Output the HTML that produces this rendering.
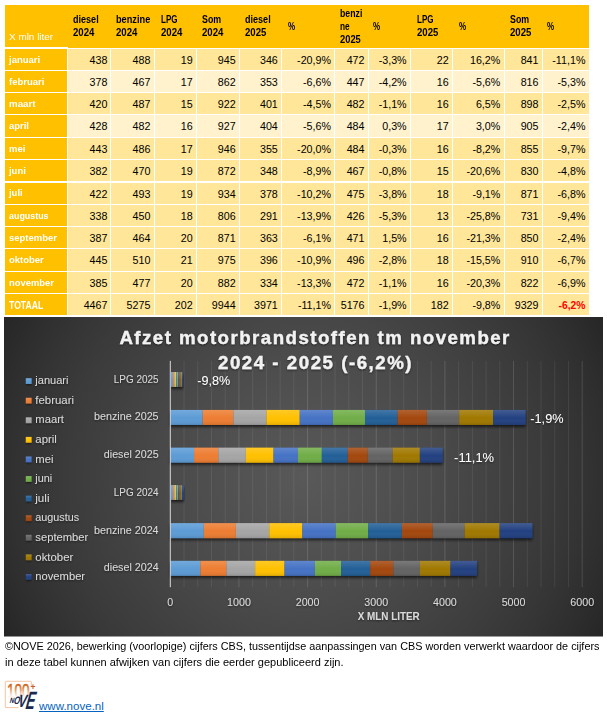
<!DOCTYPE html>
<html lang="nl"><head><meta charset="utf-8"><title>Afzet motorbrandstoffen tm november 2024 - 2025</title>
<style>
html,body{margin:0;padding:0;background:#fff;}
body{width:607px;height:718px;position:relative;overflow:hidden;font-family:"Liberation Sans", sans-serif;}
#tbl{position:absolute;left:0;top:0;width:607px;height:316px;}
#tbl div,#tbl span{position:absolute;box-sizing:border-box;white-space:nowrap;}
#hdr{background:#FFC000;}
#tbl .t{font-weight:bold;color:#000;font-size:10.6px;line-height:1;transform-origin:0 50%;}
#tbl .x{color:#fff;font-size:9.7px;line-height:1;transform-origin:0 50%;}
.l{background:#FFC000;color:#fff;font-weight:bold;font-size:9.7px;line-height:22.4px;padding-left:3.7px;overflow:hidden;}
.c{color:#000;font-size:10.7px;line-height:23.6px;text-align:right;padding-right:3.3px;overflow:hidden;}
.d{background:#FFE699;}.e{background:#FFF2CC;}
#tbl .red{color:#FF0000;font-weight:bold;font-size:10.3px;}
#chart{position:absolute;left:4px;top:317px;}
#note{position:absolute;left:5.2px;top:639.3px;font-size:10.8px;line-height:15.8px;color:#000;white-space:nowrap;}
#note span{display:block;transform-origin:0 50%;width:max-content;}
#logo{position:absolute;left:0;top:676px;}
#link{position:absolute;left:39px;top:699.1px;font-size:11.55px;line-height:14px;color:#0563C1;text-decoration:underline;}
</style></head><body>
<div id="tbl">
<div id="hdr" style="left:5px;top:5px;width:583.7px;height:43px"></div>
<div style="left:5px;top:47px;width:63px;height:1px;background:#fff"></div>
<span class="x" style="left:8.90px;top:31.99px;transform:scaleX(1.025)">X mln liter</span>
<span class="t" style="left:73.20px;top:13.78px;transform:scaleX(0.855)">diesel</span>
<span class="t" style="left:73.20px;top:26.73px;transform:scaleX(0.908)">2024</span>
<span class="t" style="left:116.30px;top:13.78px;transform:scaleX(0.869)">benzine</span>
<span class="t" style="left:116.30px;top:26.73px;transform:scaleX(0.908)">2024</span>
<span class="t" style="left:160.50px;top:13.78px;transform:scaleX(0.757)">LPG</span>
<span class="t" style="left:160.50px;top:26.73px;transform:scaleX(0.908)">2024</span>
<span class="t" style="left:202.30px;top:13.78px;transform:scaleX(0.832)">Som</span>
<span class="t" style="left:202.30px;top:26.73px;transform:scaleX(0.908)">2024</span>
<span class="t" style="left:244.50px;top:13.78px;transform:scaleX(0.855)">diesel</span>
<span class="t" style="left:244.50px;top:26.73px;transform:scaleX(0.908)">2025</span>
<span class="t" style="left:288.00px;top:20.53px;transform:scaleX(0.764)">%</span>
<span class="t" style="left:339.50px;top:8.33px;transform:scaleX(0.827)">benzi</span>
<span class="t" style="left:339.50px;top:21.03px;transform:scaleX(0.784)">ne</span>
<span class="t" style="left:339.50px;top:34.13px;transform:scaleX(0.882)">2025</span>
<span class="t" style="left:373.40px;top:20.53px;transform:scaleX(0.764)">%</span>
<span class="t" style="left:416.50px;top:13.78px;transform:scaleX(0.757)">LPG</span>
<span class="t" style="left:416.50px;top:26.73px;transform:scaleX(0.908)">2025</span>
<span class="t" style="left:458.60px;top:20.53px;transform:scaleX(0.764)">%</span>
<span class="t" style="left:510.40px;top:13.78px;transform:scaleX(0.832)">Som</span>
<span class="t" style="left:510.40px;top:26.73px;transform:scaleX(0.908)">2025</span>
<span class="t" style="left:547.30px;top:20.53px;transform:scaleX(0.764)">%</span>
<div class="l" style="left:5.00px;top:49.00px;width:62.00px;height:20.72px"><span style="position:static;display:inline-block;font-size:9.7px;transform:scaleX(0.978);transform-origin:0 50%">januari</span></div>
<div class="c d" style="left:68.00px;top:49.00px;width:42.10px;height:20.72px;padding-right:2.7px">438</div>
<div class="c d" style="left:111.10px;top:49.00px;width:42.60px;height:20.72px">488</div>
<div class="c d" style="left:154.70px;top:49.00px;width:41.30px;height:20.72px">19</div>
<div class="c d" style="left:197.00px;top:49.00px;width:41.90px;height:20.72px">945</div>
<div class="c d" style="left:239.90px;top:49.00px;width:41.20px;height:20.72px">346</div>
<div class="c d" style="left:282.10px;top:49.00px;width:52.20px;height:20.72px">-20,9%</div>
<div class="c d" style="left:335.30px;top:49.00px;width:32.50px;height:20.72px">472</div>
<div class="c d" style="left:368.80px;top:49.00px;width:41.10px;height:20.72px">-3,3%</div>
<div class="c d" style="left:410.90px;top:49.00px;width:41.10px;height:20.72px">22</div>
<div class="c d" style="left:453.00px;top:49.00px;width:50.60px;height:20.72px">16,2%</div>
<div class="c d" style="left:504.60px;top:49.00px;width:37.20px;height:20.72px">841</div>
<div class="c d" style="left:542.80px;top:49.00px;width:45.90px;height:20.72px">-11,1%</div>
<div class="l" style="left:5.00px;top:70.72px;width:62.00px;height:21.32px"><span style="position:static;display:inline-block;font-size:9.7px;transform:scaleX(0.983);transform-origin:0 50%">februari</span></div>
<div class="c e" style="left:68.00px;top:70.72px;width:42.10px;height:21.32px;padding-right:2.7px">378</div>
<div class="c e" style="left:111.10px;top:70.72px;width:42.60px;height:21.32px">467</div>
<div class="c e" style="left:154.70px;top:70.72px;width:41.30px;height:21.32px">17</div>
<div class="c e" style="left:197.00px;top:70.72px;width:41.90px;height:21.32px">862</div>
<div class="c e" style="left:239.90px;top:70.72px;width:41.20px;height:21.32px">353</div>
<div class="c e" style="left:282.10px;top:70.72px;width:52.20px;height:21.32px">-6,6%</div>
<div class="c e" style="left:335.30px;top:70.72px;width:32.50px;height:21.32px">447</div>
<div class="c e" style="left:368.80px;top:70.72px;width:41.10px;height:21.32px">-4,2%</div>
<div class="c e" style="left:410.90px;top:70.72px;width:41.10px;height:21.32px">16</div>
<div class="c e" style="left:453.00px;top:70.72px;width:50.60px;height:21.32px">-5,6%</div>
<div class="c e" style="left:504.60px;top:70.72px;width:37.20px;height:21.32px">816</div>
<div class="c e" style="left:542.80px;top:70.72px;width:45.90px;height:21.32px">-5,3%</div>
<div class="l" style="left:5.00px;top:93.04px;width:62.00px;height:21.32px"><span style="position:static;display:inline-block;font-size:9.7px;transform:scaleX(1.003);transform-origin:0 50%">maart</span></div>
<div class="c d" style="left:68.00px;top:93.04px;width:42.10px;height:21.32px;padding-right:2.7px">420</div>
<div class="c d" style="left:111.10px;top:93.04px;width:42.60px;height:21.32px">487</div>
<div class="c d" style="left:154.70px;top:93.04px;width:41.30px;height:21.32px">15</div>
<div class="c d" style="left:197.00px;top:93.04px;width:41.90px;height:21.32px">922</div>
<div class="c d" style="left:239.90px;top:93.04px;width:41.20px;height:21.32px">401</div>
<div class="c d" style="left:282.10px;top:93.04px;width:52.20px;height:21.32px">-4,5%</div>
<div class="c d" style="left:335.30px;top:93.04px;width:32.50px;height:21.32px">482</div>
<div class="c d" style="left:368.80px;top:93.04px;width:41.10px;height:21.32px">-1,1%</div>
<div class="c d" style="left:410.90px;top:93.04px;width:41.10px;height:21.32px">16</div>
<div class="c d" style="left:453.00px;top:93.04px;width:50.60px;height:21.32px">6,5%</div>
<div class="c d" style="left:504.60px;top:93.04px;width:37.20px;height:21.32px">898</div>
<div class="c d" style="left:542.80px;top:93.04px;width:45.90px;height:21.32px">-2,5%</div>
<div class="l" style="left:5.00px;top:115.36px;width:62.00px;height:21.32px"><span style="position:static;display:inline-block;font-size:9.7px;transform:scaleX(0.975);transform-origin:0 50%">april</span></div>
<div class="c e" style="left:68.00px;top:115.36px;width:42.10px;height:21.32px;padding-right:2.7px">428</div>
<div class="c e" style="left:111.10px;top:115.36px;width:42.60px;height:21.32px">482</div>
<div class="c e" style="left:154.70px;top:115.36px;width:41.30px;height:21.32px">16</div>
<div class="c e" style="left:197.00px;top:115.36px;width:41.90px;height:21.32px">927</div>
<div class="c e" style="left:239.90px;top:115.36px;width:41.20px;height:21.32px">404</div>
<div class="c e" style="left:282.10px;top:115.36px;width:52.20px;height:21.32px">-5,6%</div>
<div class="c e" style="left:335.30px;top:115.36px;width:32.50px;height:21.32px">484</div>
<div class="c e" style="left:368.80px;top:115.36px;width:41.10px;height:21.32px">0,3%</div>
<div class="c e" style="left:410.90px;top:115.36px;width:41.10px;height:21.32px">17</div>
<div class="c e" style="left:453.00px;top:115.36px;width:50.60px;height:21.32px">3,0%</div>
<div class="c e" style="left:504.60px;top:115.36px;width:37.20px;height:21.32px">905</div>
<div class="c e" style="left:542.80px;top:115.36px;width:45.90px;height:21.32px">-2,4%</div>
<div class="l" style="left:5.00px;top:137.68px;width:62.00px;height:21.32px"><span style="position:static;display:inline-block;font-size:9.7px;transform:scaleX(0.975);transform-origin:0 50%">mei</span></div>
<div class="c d" style="left:68.00px;top:137.68px;width:42.10px;height:21.32px;padding-right:2.7px">443</div>
<div class="c d" style="left:111.10px;top:137.68px;width:42.60px;height:21.32px">486</div>
<div class="c d" style="left:154.70px;top:137.68px;width:41.30px;height:21.32px">17</div>
<div class="c d" style="left:197.00px;top:137.68px;width:41.90px;height:21.32px">946</div>
<div class="c d" style="left:239.90px;top:137.68px;width:41.20px;height:21.32px">355</div>
<div class="c d" style="left:282.10px;top:137.68px;width:52.20px;height:21.32px">-20,0%</div>
<div class="c d" style="left:335.30px;top:137.68px;width:32.50px;height:21.32px">484</div>
<div class="c d" style="left:368.80px;top:137.68px;width:41.10px;height:21.32px">-0,3%</div>
<div class="c d" style="left:410.90px;top:137.68px;width:41.10px;height:21.32px">16</div>
<div class="c d" style="left:453.00px;top:137.68px;width:50.60px;height:21.32px">-8,2%</div>
<div class="c d" style="left:504.60px;top:137.68px;width:37.20px;height:21.32px">855</div>
<div class="c d" style="left:542.80px;top:137.68px;width:45.90px;height:21.32px">-9,7%</div>
<div class="l" style="left:5.00px;top:160.00px;width:62.00px;height:21.00px"><span style="position:static;display:inline-block;font-size:9.7px;transform:scaleX(0.975);transform-origin:0 50%">juni</span></div>
<div class="c d" style="left:68.00px;top:160.00px;width:42.10px;height:21.00px;padding-right:2.7px">382</div>
<div class="c d" style="left:111.10px;top:160.00px;width:42.60px;height:21.00px">470</div>
<div class="c d" style="left:154.70px;top:160.00px;width:41.30px;height:21.00px">19</div>
<div class="c d" style="left:197.00px;top:160.00px;width:41.90px;height:21.00px">872</div>
<div class="c d" style="left:239.90px;top:160.00px;width:41.20px;height:21.00px">348</div>
<div class="c d" style="left:282.10px;top:160.00px;width:52.20px;height:21.00px">-8,9%</div>
<div class="c d" style="left:335.30px;top:160.00px;width:32.50px;height:21.00px">467</div>
<div class="c d" style="left:368.80px;top:160.00px;width:41.10px;height:21.00px">-0,8%</div>
<div class="c d" style="left:410.90px;top:160.00px;width:41.10px;height:21.00px">15</div>
<div class="c d" style="left:453.00px;top:160.00px;width:50.60px;height:21.00px">-20,6%</div>
<div class="c d" style="left:504.60px;top:160.00px;width:37.20px;height:21.00px">830</div>
<div class="c d" style="left:542.80px;top:160.00px;width:45.90px;height:21.00px">-4,8%</div>
<div class="l" style="left:5.00px;top:183.00px;width:62.00px;height:20.64px;line-height:20.4px"><span style="position:static;display:inline-block;font-size:9.7px;transform:scaleX(0.975);transform-origin:0 50%">juli</span></div>
<div class="c d" style="left:68.00px;top:183.00px;width:42.10px;height:20.64px;padding-right:2.7px">422</div>
<div class="c d" style="left:111.10px;top:183.00px;width:42.60px;height:20.64px">493</div>
<div class="c d" style="left:154.70px;top:183.00px;width:41.30px;height:20.64px">19</div>
<div class="c d" style="left:197.00px;top:183.00px;width:41.90px;height:20.64px">934</div>
<div class="c d" style="left:239.90px;top:183.00px;width:41.20px;height:20.64px">378</div>
<div class="c d" style="left:282.10px;top:183.00px;width:52.20px;height:20.64px">-10,2%</div>
<div class="c d" style="left:335.30px;top:183.00px;width:32.50px;height:20.64px">475</div>
<div class="c d" style="left:368.80px;top:183.00px;width:41.10px;height:20.64px">-3,8%</div>
<div class="c d" style="left:410.90px;top:183.00px;width:41.10px;height:20.64px">18</div>
<div class="c d" style="left:453.00px;top:183.00px;width:50.60px;height:20.64px">-9,1%</div>
<div class="c d" style="left:504.60px;top:183.00px;width:37.20px;height:20.64px">871</div>
<div class="c d" style="left:542.80px;top:183.00px;width:45.90px;height:20.64px">-6,8%</div>
<div class="l" style="left:5.00px;top:204.64px;width:62.00px;height:21.32px"><span style="position:static;display:inline-block;font-size:9.7px;transform:scaleX(0.918);transform-origin:0 50%">augustus</span></div>
<div class="c d" style="left:68.00px;top:204.64px;width:42.10px;height:21.32px;padding-right:2.7px">338</div>
<div class="c d" style="left:111.10px;top:204.64px;width:42.60px;height:21.32px">450</div>
<div class="c d" style="left:154.70px;top:204.64px;width:41.30px;height:21.32px">18</div>
<div class="c d" style="left:197.00px;top:204.64px;width:41.90px;height:21.32px">806</div>
<div class="c d" style="left:239.90px;top:204.64px;width:41.20px;height:21.32px">291</div>
<div class="c d" style="left:282.10px;top:204.64px;width:52.20px;height:21.32px">-13,9%</div>
<div class="c d" style="left:335.30px;top:204.64px;width:32.50px;height:21.32px">426</div>
<div class="c d" style="left:368.80px;top:204.64px;width:41.10px;height:21.32px">-5,3%</div>
<div class="c d" style="left:410.90px;top:204.64px;width:41.10px;height:21.32px">13</div>
<div class="c d" style="left:453.00px;top:204.64px;width:50.60px;height:21.32px">-25,8%</div>
<div class="c d" style="left:504.60px;top:204.64px;width:37.20px;height:21.32px">731</div>
<div class="c d" style="left:542.80px;top:204.64px;width:45.90px;height:21.32px">-9,4%</div>
<div class="l" style="left:5.00px;top:226.96px;width:62.00px;height:21.32px"><span style="position:static;display:inline-block;font-size:9.7px;transform:scaleX(0.978);transform-origin:0 50%">september</span></div>
<div class="c d" style="left:68.00px;top:226.96px;width:42.10px;height:21.32px;padding-right:2.7px">387</div>
<div class="c d" style="left:111.10px;top:226.96px;width:42.60px;height:21.32px">464</div>
<div class="c d" style="left:154.70px;top:226.96px;width:41.30px;height:21.32px">20</div>
<div class="c d" style="left:197.00px;top:226.96px;width:41.90px;height:21.32px">871</div>
<div class="c d" style="left:239.90px;top:226.96px;width:41.20px;height:21.32px">363</div>
<div class="c d" style="left:282.10px;top:226.96px;width:52.20px;height:21.32px">-6,1%</div>
<div class="c d" style="left:335.30px;top:226.96px;width:32.50px;height:21.32px">471</div>
<div class="c d" style="left:368.80px;top:226.96px;width:41.10px;height:21.32px">1,5%</div>
<div class="c d" style="left:410.90px;top:226.96px;width:41.10px;height:21.32px">16</div>
<div class="c d" style="left:453.00px;top:226.96px;width:50.60px;height:21.32px">-21,3%</div>
<div class="c d" style="left:504.60px;top:226.96px;width:37.20px;height:21.32px">850</div>
<div class="c d" style="left:542.80px;top:226.96px;width:45.90px;height:21.32px">-2,4%</div>
<div class="l" style="left:5.00px;top:249.28px;width:62.00px;height:21.32px"><span style="position:static;display:inline-block;font-size:9.7px;transform:scaleX(0.978);transform-origin:0 50%">oktober</span></div>
<div class="c d" style="left:68.00px;top:249.28px;width:42.10px;height:21.32px;padding-right:2.7px">445</div>
<div class="c d" style="left:111.10px;top:249.28px;width:42.60px;height:21.32px">510</div>
<div class="c d" style="left:154.70px;top:249.28px;width:41.30px;height:21.32px">21</div>
<div class="c d" style="left:197.00px;top:249.28px;width:41.90px;height:21.32px">975</div>
<div class="c d" style="left:239.90px;top:249.28px;width:41.20px;height:21.32px">396</div>
<div class="c d" style="left:282.10px;top:249.28px;width:52.20px;height:21.32px">-10,9%</div>
<div class="c d" style="left:335.30px;top:249.28px;width:32.50px;height:21.32px">496</div>
<div class="c d" style="left:368.80px;top:249.28px;width:41.10px;height:21.32px">-2,8%</div>
<div class="c d" style="left:410.90px;top:249.28px;width:41.10px;height:21.32px">18</div>
<div class="c d" style="left:453.00px;top:249.28px;width:50.60px;height:21.32px">-15,5%</div>
<div class="c d" style="left:504.60px;top:249.28px;width:37.20px;height:21.32px">910</div>
<div class="c d" style="left:542.80px;top:249.28px;width:45.90px;height:21.32px">-6,7%</div>
<div class="l" style="left:5.00px;top:271.60px;width:62.00px;height:21.32px"><span style="position:static;display:inline-block;font-size:9.7px;transform:scaleX(0.969);transform-origin:0 50%">november</span></div>
<div class="c d" style="left:68.00px;top:271.60px;width:42.10px;height:21.32px;padding-right:2.7px">385</div>
<div class="c d" style="left:111.10px;top:271.60px;width:42.60px;height:21.32px">477</div>
<div class="c d" style="left:154.70px;top:271.60px;width:41.30px;height:21.32px">20</div>
<div class="c d" style="left:197.00px;top:271.60px;width:41.90px;height:21.32px">882</div>
<div class="c d" style="left:239.90px;top:271.60px;width:41.20px;height:21.32px">334</div>
<div class="c d" style="left:282.10px;top:271.60px;width:52.20px;height:21.32px">-13,3%</div>
<div class="c d" style="left:335.30px;top:271.60px;width:32.50px;height:21.32px">472</div>
<div class="c d" style="left:368.80px;top:271.60px;width:41.10px;height:21.32px">-1,1%</div>
<div class="c d" style="left:410.90px;top:271.60px;width:41.10px;height:21.32px">16</div>
<div class="c d" style="left:453.00px;top:271.60px;width:50.60px;height:21.32px">-20,3%</div>
<div class="c d" style="left:504.60px;top:271.60px;width:37.20px;height:21.32px">822</div>
<div class="c d" style="left:542.80px;top:271.60px;width:45.90px;height:21.32px">-6,9%</div>
<div class="l" style="left:5.00px;top:293.92px;width:62.00px;height:20.68px"><span style="position:static;display:inline-block;font-size:10.5px;transform:scaleX(0.824);transform-origin:0 50%">TOTAAL</span></div>
<div class="c d" style="left:68.00px;top:293.92px;width:42.10px;height:20.68px;padding-right:2.7px">4467</div>
<div class="c d" style="left:111.10px;top:293.92px;width:42.60px;height:20.68px">5275</div>
<div class="c d" style="left:154.70px;top:293.92px;width:41.30px;height:20.68px">202</div>
<div class="c d" style="left:197.00px;top:293.92px;width:41.90px;height:20.68px">9944</div>
<div class="c d" style="left:239.90px;top:293.92px;width:41.20px;height:20.68px">3971</div>
<div class="c d" style="left:282.10px;top:293.92px;width:52.20px;height:20.68px">-11,1%</div>
<div class="c d" style="left:335.30px;top:293.92px;width:32.50px;height:20.68px">5176</div>
<div class="c d" style="left:368.80px;top:293.92px;width:41.10px;height:20.68px">-1,9%</div>
<div class="c d" style="left:410.90px;top:293.92px;width:41.10px;height:20.68px">182</div>
<div class="c d" style="left:453.00px;top:293.92px;width:50.60px;height:20.68px">-9,8%</div>
<div class="c d" style="left:504.60px;top:293.92px;width:37.20px;height:20.68px">9329</div>
<div class="c d red" style="left:542.80px;top:293.92px;width:45.90px;height:20.68px">-6,2%</div>
</div>
<svg id="chart" width="599" height="319.5" viewBox="0 0 599 319.5" font-family="Liberation Sans, sans-serif">
<defs>
<radialGradient id="bg" gradientUnits="userSpaceOnUse" cx="299.5" cy="159.75" r="339.5"><stop offset="0" stop-color="#595959"/><stop offset="0.1" stop-color="#555555"/><stop offset="0.2" stop-color="#525252"/><stop offset="0.3" stop-color="#4e4e4e"/><stop offset="0.4" stop-color="#4a4a4a"/><stop offset="0.5" stop-color="#454545"/><stop offset="0.6" stop-color="#404040"/><stop offset="0.7" stop-color="#3b3b3b"/><stop offset="0.8" stop-color="#353535"/><stop offset="0.9" stop-color="#2e2e2e"/><stop offset="1" stop-color="#262626"/></radialGradient>
<linearGradient id="sh" x1="0" y1="0" x2="0" y2="1"><stop offset="0" stop-color="#fff" stop-opacity="0.15"/><stop offset="0.55" stop-color="#fff" stop-opacity="0"/><stop offset="1" stop-color="#000" stop-opacity="0.10"/></linearGradient>
<filter id="ds" x="-5%" y="-30%" width="110%" height="170%"><feGaussianBlur in="SourceAlpha" stdDeviation="1.4"/><feOffset dx="0.4" dy="1.9"/><feComponentTransfer><feFuncA type="linear" slope="0.65"/></feComponentTransfer><feMerge><feMergeNode/><feMergeNode in="SourceGraphic"/></feMerge></filter>
<filter id="ts" x="-5%" y="-30%" width="110%" height="180%"><feGaussianBlur in="SourceAlpha" stdDeviation="0.9"/><feOffset dx="0.3" dy="1.1"/><feComponentTransfer><feFuncA type="linear" slope="0.55"/></feComponentTransfer><feMerge><feMergeNode/><feMergeNode in="SourceGraphic"/></feMerge></filter>
</defs>
<rect x="0" y="0" width="599" height="319.5" fill="url(#bg)"/>
<line x1="180.03" y1="43.85" x2="180.03" y2="270.20" stroke="#fff" stroke-opacity="0.10" stroke-width="0.8"/>
<line x1="193.76" y1="43.85" x2="193.76" y2="270.20" stroke="#fff" stroke-opacity="0.10" stroke-width="0.8"/>
<line x1="207.49" y1="43.85" x2="207.49" y2="270.20" stroke="#fff" stroke-opacity="0.10" stroke-width="0.8"/>
<line x1="221.22" y1="43.85" x2="221.22" y2="270.20" stroke="#fff" stroke-opacity="0.10" stroke-width="0.8"/>
<line x1="234.95" y1="43.85" x2="234.95" y2="270.20" stroke="#fff" stroke-opacity="0.18" stroke-width="0.8"/>
<line x1="248.68" y1="43.85" x2="248.68" y2="270.20" stroke="#fff" stroke-opacity="0.10" stroke-width="0.8"/>
<line x1="262.41" y1="43.85" x2="262.41" y2="270.20" stroke="#fff" stroke-opacity="0.10" stroke-width="0.8"/>
<line x1="276.14" y1="43.85" x2="276.14" y2="270.20" stroke="#fff" stroke-opacity="0.10" stroke-width="0.8"/>
<line x1="289.87" y1="43.85" x2="289.87" y2="270.20" stroke="#fff" stroke-opacity="0.10" stroke-width="0.8"/>
<line x1="303.60" y1="43.85" x2="303.60" y2="270.20" stroke="#fff" stroke-opacity="0.18" stroke-width="0.8"/>
<line x1="317.33" y1="43.85" x2="317.33" y2="270.20" stroke="#fff" stroke-opacity="0.10" stroke-width="0.8"/>
<line x1="331.06" y1="43.85" x2="331.06" y2="270.20" stroke="#fff" stroke-opacity="0.10" stroke-width="0.8"/>
<line x1="344.79" y1="43.85" x2="344.79" y2="270.20" stroke="#fff" stroke-opacity="0.10" stroke-width="0.8"/>
<line x1="358.52" y1="43.85" x2="358.52" y2="270.20" stroke="#fff" stroke-opacity="0.10" stroke-width="0.8"/>
<line x1="372.25" y1="43.85" x2="372.25" y2="270.20" stroke="#fff" stroke-opacity="0.18" stroke-width="0.8"/>
<line x1="385.98" y1="43.85" x2="385.98" y2="270.20" stroke="#fff" stroke-opacity="0.10" stroke-width="0.8"/>
<line x1="399.71" y1="43.85" x2="399.71" y2="270.20" stroke="#fff" stroke-opacity="0.10" stroke-width="0.8"/>
<line x1="413.44" y1="43.85" x2="413.44" y2="270.20" stroke="#fff" stroke-opacity="0.10" stroke-width="0.8"/>
<line x1="427.17" y1="43.85" x2="427.17" y2="270.20" stroke="#fff" stroke-opacity="0.10" stroke-width="0.8"/>
<line x1="440.90" y1="43.85" x2="440.90" y2="270.20" stroke="#fff" stroke-opacity="0.18" stroke-width="0.8"/>
<line x1="454.63" y1="43.85" x2="454.63" y2="270.20" stroke="#fff" stroke-opacity="0.10" stroke-width="0.8"/>
<line x1="468.36" y1="43.85" x2="468.36" y2="270.20" stroke="#fff" stroke-opacity="0.10" stroke-width="0.8"/>
<line x1="482.09" y1="43.85" x2="482.09" y2="270.20" stroke="#fff" stroke-opacity="0.10" stroke-width="0.8"/>
<line x1="495.82" y1="43.85" x2="495.82" y2="270.20" stroke="#fff" stroke-opacity="0.10" stroke-width="0.8"/>
<line x1="509.55" y1="43.85" x2="509.55" y2="270.20" stroke="#fff" stroke-opacity="0.18" stroke-width="0.8"/>
<line x1="523.28" y1="43.85" x2="523.28" y2="270.20" stroke="#fff" stroke-opacity="0.10" stroke-width="0.8"/>
<line x1="537.01" y1="43.85" x2="537.01" y2="270.20" stroke="#fff" stroke-opacity="0.10" stroke-width="0.8"/>
<line x1="550.74" y1="43.85" x2="550.74" y2="270.20" stroke="#fff" stroke-opacity="0.10" stroke-width="0.8"/>
<line x1="564.47" y1="43.85" x2="564.47" y2="270.20" stroke="#fff" stroke-opacity="0.10" stroke-width="0.8"/>
<line x1="578.20" y1="43.85" x2="578.20" y2="270.20" stroke="#fff" stroke-opacity="0.18" stroke-width="0.8"/>
<g filter="url(#ds)" shape-rendering="crispEdges">
<rect x="167" y="55.21" width="2" height="15.00" fill="#5B9BD5"/>
<rect x="169" y="55.21" width="1" height="15.00" fill="#ED7D31"/>
<rect x="170" y="55.21" width="1" height="15.00" fill="#A5A5A5"/>
<rect x="171" y="55.21" width="1" height="15.00" fill="#FFC000"/>
<rect x="172" y="55.21" width="1" height="15.00" fill="#4472C4"/>
<rect x="173" y="55.21" width="1" height="15.00" fill="#70AD47"/>
<rect x="174" y="55.21" width="1" height="15.00" fill="#225F97"/>
<rect x="175" y="55.21" width="1" height="15.00" fill="#A3460D"/>
<rect x="176" y="55.21" width="1" height="15.00" fill="#636363"/>
<rect x="177" y="55.21" width="1" height="15.00" fill="#A07803"/>
<rect x="178" y="55.21" width="1" height="15.00" fill="#234180"/>
</g>
<rect x="167" y="55.21" width="12" height="15.00" fill="url(#sh)"/>
<g filter="url(#ds)">
<rect x="166.30" y="92.94" width="32.40" height="15.00" fill="#5B9BD5"/>
<rect x="198.70" y="92.94" width="30.69" height="15.00" fill="#ED7D31"/>
<rect x="229.39" y="92.94" width="33.09" height="15.00" fill="#A5A5A5"/>
<rect x="262.48" y="92.94" width="33.23" height="15.00" fill="#FFC000"/>
<rect x="295.71" y="92.94" width="33.23" height="15.00" fill="#4472C4"/>
<rect x="328.93" y="92.94" width="32.06" height="15.00" fill="#70AD47"/>
<rect x="360.99" y="92.94" width="32.61" height="15.00" fill="#225F97"/>
<rect x="393.60" y="92.94" width="29.24" height="15.00" fill="#A3460D"/>
<rect x="422.85" y="92.94" width="32.33" height="15.00" fill="#636363"/>
<rect x="455.18" y="92.94" width="34.05" height="15.00" fill="#A07803"/>
<rect x="489.23" y="92.94" width="32.40" height="15.00" fill="#234180"/>
</g>
<rect x="166.30" y="92.94" width="355.33" height="15.00" fill="url(#sh)"/>
<g filter="url(#ds)">
<rect x="166.30" y="130.66" width="23.75" height="15.00" fill="#5B9BD5"/>
<rect x="190.05" y="130.66" width="24.23" height="15.00" fill="#ED7D31"/>
<rect x="214.29" y="130.66" width="27.53" height="15.00" fill="#A5A5A5"/>
<rect x="241.81" y="130.66" width="27.73" height="15.00" fill="#FFC000"/>
<rect x="269.55" y="130.66" width="24.37" height="15.00" fill="#4472C4"/>
<rect x="293.92" y="130.66" width="23.89" height="15.00" fill="#70AD47"/>
<rect x="317.81" y="130.66" width="25.95" height="15.00" fill="#225F97"/>
<rect x="343.76" y="130.66" width="19.98" height="15.00" fill="#A3460D"/>
<rect x="363.74" y="130.66" width="24.92" height="15.00" fill="#636363"/>
<rect x="388.66" y="130.66" width="27.19" height="15.00" fill="#A07803"/>
<rect x="415.84" y="130.66" width="22.93" height="15.00" fill="#234180"/>
</g>
<rect x="166.30" y="130.66" width="272.47" height="15.00" fill="url(#sh)"/>
<g filter="url(#ds)" shape-rendering="crispEdges">
<rect x="167" y="168.39" width="2" height="15.00" fill="#5B9BD5"/>
<rect x="169" y="168.39" width="1" height="15.00" fill="#ED7D31"/>
<rect x="170" y="168.39" width="1" height="15.00" fill="#A5A5A5"/>
<rect x="171" y="168.39" width="1" height="15.00" fill="#FFC000"/>
<rect x="172" y="168.39" width="1" height="15.00" fill="#4472C4"/>
<rect x="173" y="168.39" width="1" height="15.00" fill="#70AD47"/>
<rect x="174" y="168.39" width="1" height="15.00" fill="#225F97"/>
<rect x="175" y="168.39" width="1" height="15.00" fill="#A3460D"/>
<rect x="176" y="168.39" width="1" height="15.00" fill="#636363"/>
<rect x="177" y="168.39" width="1" height="15.00" fill="#A07803"/>
<rect x="178" y="168.39" width="2" height="15.00" fill="#234180"/>
</g>
<rect x="167" y="168.39" width="13" height="15.00" fill="url(#sh)"/>
<g filter="url(#ds)">
<rect x="166.30" y="206.11" width="33.50" height="15.00" fill="#5B9BD5"/>
<rect x="199.80" y="206.11" width="32.06" height="15.00" fill="#ED7D31"/>
<rect x="231.86" y="206.11" width="33.43" height="15.00" fill="#A5A5A5"/>
<rect x="265.29" y="206.11" width="33.09" height="15.00" fill="#FFC000"/>
<rect x="298.38" y="206.11" width="33.36" height="15.00" fill="#4472C4"/>
<rect x="331.75" y="206.11" width="32.27" height="15.00" fill="#70AD47"/>
<rect x="364.01" y="206.11" width="33.84" height="15.00" fill="#225F97"/>
<rect x="397.86" y="206.11" width="30.89" height="15.00" fill="#A3460D"/>
<rect x="428.75" y="206.11" width="31.85" height="15.00" fill="#636363"/>
<rect x="460.60" y="206.11" width="35.01" height="15.00" fill="#A07803"/>
<rect x="495.61" y="206.11" width="32.75" height="15.00" fill="#234180"/>
</g>
<rect x="166.30" y="206.11" width="362.06" height="15.00" fill="url(#sh)"/>
<g filter="url(#ds)">
<rect x="166.30" y="243.84" width="30.07" height="15.00" fill="#5B9BD5"/>
<rect x="196.37" y="243.84" width="25.95" height="15.00" fill="#ED7D31"/>
<rect x="222.32" y="243.84" width="28.83" height="15.00" fill="#A5A5A5"/>
<rect x="251.15" y="243.84" width="29.38" height="15.00" fill="#FFC000"/>
<rect x="280.53" y="243.84" width="30.41" height="15.00" fill="#4472C4"/>
<rect x="310.95" y="243.84" width="26.22" height="15.00" fill="#70AD47"/>
<rect x="337.17" y="243.84" width="28.97" height="15.00" fill="#225F97"/>
<rect x="366.14" y="243.84" width="23.20" height="15.00" fill="#A3460D"/>
<rect x="389.34" y="243.84" width="26.57" height="15.00" fill="#636363"/>
<rect x="415.91" y="243.84" width="30.55" height="15.00" fill="#A07803"/>
<rect x="446.46" y="243.84" width="26.43" height="15.00" fill="#234180"/>
</g>
<rect x="166.30" y="243.84" width="306.59" height="15.00" fill="url(#sh)"/>
<line x1="166.30" y1="43.85" x2="166.30" y2="270.20" stroke="#d9d9d9" stroke-width="1"/>
<rect x="21.80" y="61.20" width="5.8" height="5.8" fill="#5B9BD5" filter="url(#ts)"/>
<rect x="21.80" y="61.20" width="5.8" height="5.8" fill="url(#sh)"/>
<rect x="21.80" y="80.78" width="5.8" height="5.8" fill="#ED7D31" filter="url(#ts)"/>
<rect x="21.80" y="80.78" width="5.8" height="5.8" fill="url(#sh)"/>
<rect x="21.80" y="100.36" width="5.8" height="5.8" fill="#A5A5A5" filter="url(#ts)"/>
<rect x="21.80" y="100.36" width="5.8" height="5.8" fill="url(#sh)"/>
<rect x="21.80" y="119.94" width="5.8" height="5.8" fill="#FFC000" filter="url(#ts)"/>
<rect x="21.80" y="119.94" width="5.8" height="5.8" fill="url(#sh)"/>
<rect x="21.80" y="139.52" width="5.8" height="5.8" fill="#4472C4" filter="url(#ts)"/>
<rect x="21.80" y="139.52" width="5.8" height="5.8" fill="url(#sh)"/>
<rect x="21.80" y="159.10" width="5.8" height="5.8" fill="#70AD47" filter="url(#ts)"/>
<rect x="21.80" y="159.10" width="5.8" height="5.8" fill="url(#sh)"/>
<rect x="21.80" y="178.68" width="5.8" height="5.8" fill="#225F97" filter="url(#ts)"/>
<rect x="21.80" y="178.68" width="5.8" height="5.8" fill="url(#sh)"/>
<rect x="21.80" y="198.26" width="5.8" height="5.8" fill="#A3460D" filter="url(#ts)"/>
<rect x="21.80" y="198.26" width="5.8" height="5.8" fill="url(#sh)"/>
<rect x="21.80" y="217.84" width="5.8" height="5.8" fill="#636363" filter="url(#ts)"/>
<rect x="21.80" y="217.84" width="5.8" height="5.8" fill="url(#sh)"/>
<rect x="21.80" y="237.42" width="5.8" height="5.8" fill="#A07803" filter="url(#ts)"/>
<rect x="21.80" y="237.42" width="5.8" height="5.8" fill="url(#sh)"/>
<rect x="21.80" y="257.00" width="5.8" height="5.8" fill="#234180" filter="url(#ts)"/>
<rect x="21.80" y="257.00" width="5.8" height="5.8" fill="url(#sh)"/>
<g filter="url(#ts)">
<text x="154.60" y="65.71" text-anchor="end" font-size="10.7" fill="#d9d9d9" textLength="44.8" lengthAdjust="spacingAndGlyphs">LPG 2025</text>
<text x="193.20" y="68.40" font-size="12.2" fill="#ffffff" textLength="33.0" lengthAdjust="spacingAndGlyphs">-9,8%</text>
<text x="154.60" y="103.44" text-anchor="end" font-size="10.7" fill="#d9d9d9" textLength="64.6" lengthAdjust="spacingAndGlyphs">benzine 2025</text>
<text x="526.30" y="105.60" font-size="12.2" fill="#ffffff" textLength="33.2" lengthAdjust="spacingAndGlyphs">-1,9%</text>
<text x="154.60" y="141.16" text-anchor="end" font-size="10.7" fill="#d9d9d9" textLength="54.8" lengthAdjust="spacingAndGlyphs">diesel 2025</text>
<text x="450.10" y="144.70" font-size="12.2" fill="#ffffff" textLength="40.0" lengthAdjust="spacingAndGlyphs">-11,1%</text>
<text x="154.60" y="178.89" text-anchor="end" font-size="10.7" fill="#d9d9d9" textLength="44.8" lengthAdjust="spacingAndGlyphs">LPG 2024</text>
<text x="154.60" y="216.61" text-anchor="end" font-size="10.7" fill="#d9d9d9" textLength="64.6" lengthAdjust="spacingAndGlyphs">benzine 2024</text>
<text x="154.60" y="254.34" text-anchor="end" font-size="10.7" fill="#d9d9d9" textLength="54.8" lengthAdjust="spacingAndGlyphs">diesel 2024</text>
<text x="166.30" y="289.00" text-anchor="middle" font-size="10.7" fill="#d9d9d9">0</text>
<text x="234.95" y="289.00" text-anchor="middle" font-size="10.7" fill="#d9d9d9">1000</text>
<text x="303.60" y="289.00" text-anchor="middle" font-size="10.7" fill="#d9d9d9">2000</text>
<text x="372.25" y="289.00" text-anchor="middle" font-size="10.7" fill="#d9d9d9">3000</text>
<text x="440.90" y="289.00" text-anchor="middle" font-size="10.7" fill="#d9d9d9">4000</text>
<text x="509.55" y="289.00" text-anchor="middle" font-size="10.7" fill="#d9d9d9">5000</text>
<text x="578.20" y="289.00" text-anchor="middle" font-size="10.7" fill="#d9d9d9">6000</text>
<text x="384.70" y="302.60" text-anchor="middle" font-size="10.5" font-weight="bold" fill="#d9d9d9" textLength="62" lengthAdjust="spacingAndGlyphs">X MLN LITER</text>
<text x="115.40" y="26.70" font-size="18.7" font-weight="bold" fill="#f2f2f2" stroke="#f2f2f2" stroke-width="0.35" textLength="390" lengthAdjust="spacing">Afzet motorbrandstoffen tm november</text>
<text x="214.00" y="52.20" font-size="18.7" font-weight="bold" fill="#f2f2f2" stroke="#f2f2f2" stroke-width="0.35" textLength="193.6" lengthAdjust="spacing">2024 - 2025 (-6,2%)</text>
<text x="31.30" y="67.30" font-size="10.9" fill="#d9d9d9" textLength="33.2" lengthAdjust="spacingAndGlyphs">januari</text>
<text x="31.30" y="86.88" font-size="10.9" fill="#d9d9d9" textLength="38.7" lengthAdjust="spacingAndGlyphs">februari</text>
<text x="31.30" y="106.46" font-size="10.9" fill="#d9d9d9" textLength="28.7" lengthAdjust="spacingAndGlyphs">maart</text>
<text x="31.30" y="126.04" font-size="10.9" fill="#d9d9d9" textLength="21.6" lengthAdjust="spacingAndGlyphs">april</text>
<text x="31.30" y="145.62" font-size="10.9" fill="#d9d9d9" textLength="18.2" lengthAdjust="spacingAndGlyphs">mei</text>
<text x="31.30" y="165.20" font-size="10.9" fill="#d9d9d9" textLength="16.9" lengthAdjust="spacingAndGlyphs">juni</text>
<text x="31.30" y="184.78" font-size="10.9" fill="#d9d9d9" textLength="14.2" lengthAdjust="spacingAndGlyphs">juli</text>
<text x="31.30" y="204.36" font-size="10.9" fill="#d9d9d9" textLength="43.8" lengthAdjust="spacingAndGlyphs">augustus</text>
<text x="31.30" y="223.94" font-size="10.9" fill="#d9d9d9" textLength="53.0" lengthAdjust="spacingAndGlyphs">september</text>
<text x="31.30" y="243.52" font-size="10.9" fill="#d9d9d9" textLength="38.0" lengthAdjust="spacingAndGlyphs">oktober</text>
<text x="31.30" y="263.10" font-size="10.9" fill="#d9d9d9" textLength="49.8" lengthAdjust="spacingAndGlyphs">november</text>
</g>
</svg>
<div id="note"><span style="transform:scaleX(1.0033)">©NOVE 2026, bewerking (voorlopige) cijfers CBS, tussentijdse aanpassingen van CBS worden verwerkt waardoor de cijfers</span><span style="transform:scaleX(1.0199)">in deze tabel kunnen afwijken van cijfers die eerder gepubliceerd zijn.</span></div>
<svg id="logo" width="50" height="42" viewBox="0 0 50 42" font-family="Liberation Sans, sans-serif">
<defs><linearGradient id="lg" gradientUnits="userSpaceOnUse" x1="0" y1="8" x2="0" y2="23"><stop offset="0" stop-color="#CC5A16"/><stop offset="0.35" stop-color="#E38848"/><stop offset="0.75" stop-color="#F6D3BA" stop-opacity="0.6"/><stop offset="1" stop-color="#ffffff" stop-opacity="0"/></linearGradient></defs>
<path d="M18.5 31.6 H6 Q5.3 31.6 5.3 30.9 V6 Q5.3 5.3 6 5.3 H30.6 Q31.3 5.3 31.3 6 V10.5" fill="none" stroke="#F0B088" stroke-width="0.75"/>
<text x="6.9" y="22.3" font-size="19.6" fill="url(#lg)" stroke="url(#lg)" stroke-width="0.5" textLength="22.6" lengthAdjust="spacingAndGlyphs">100</text>
<text x="30.6" y="13.6" font-size="8.5" font-weight="bold" fill="#CC5A16">+</text>
<text transform="translate(9.2 26.8) skewX(-15) scale(0.8 1)" font-size="7.6" font-weight="bold" fill="#1B2A4E">N</text>
<text transform="translate(13.2 28) skewX(-15) scale(0.74 1)" font-size="10.6" font-weight="bold" fill="#1B2A4E">O</text>
<text transform="translate(16.9 30.5) skewX(-15) scale(0.7 1)" font-size="18" font-weight="bold" fill="#1B2A4E">V</text>
<text transform="translate(24.5 33) skewX(-15) scale(0.54 1)" font-size="25" font-weight="bold" fill="#1B2A4E">E</text>
</svg>
<a id="link" href="#">www.nove.nl</a>
</body></html>
